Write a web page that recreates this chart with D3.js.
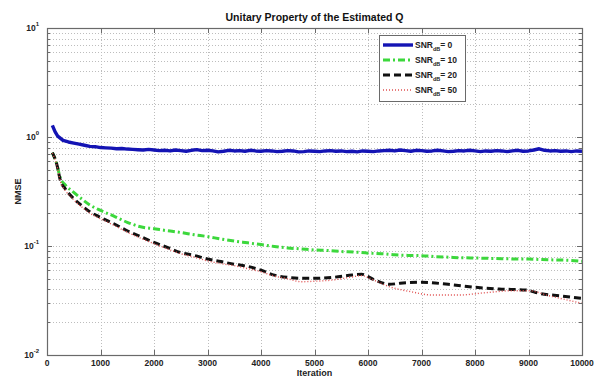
<!DOCTYPE html>
<html>
<head>
<meta charset="utf-8">
<script src="https://cdn.jsdelivr.net/npm/d3@7"></script>
<style>
  body { margin: 0; background: #fff; }
  svg { display: block; font-family: "Liberation Sans", Arial, sans-serif; }
</style>
</head>
<body>
<div id="chart"></div>
<script>
// Data
const title = 'Unitary Property of the Estimated Q';
const xLabel = 'Iteration';
const yLabel = 'NMSE';
const xTicks = [0, 1000, 2000, 3000, 4000, 5000, 6000, 7000, 8000, 9000, 10000];
const yDecades = [-2, -1, 0, 1];

const snrLabels = ['0', '10', '20', '50'];

const blueIter = [100, 150, 200, 300, 400, 500, 600, 700, 800, 900, 1000,
  1100, 1200, 1300, 1400, 1500, 1600, 1700, 1800, 1900, 2000,
  2100, 2200, 2300, 2400, 2500, 2600, 2700, 2800, 2900, 3000,
  3100, 3200, 3300, 3400, 3500, 3600, 3700, 3800, 3900, 4000,
  4100, 4200, 4300, 4400, 4500, 4600, 4700, 4800, 4900, 5000,
  5100, 5200, 5300, 5400, 5500, 5600, 5700, 5800, 5900, 6000,
  6100, 6200, 6300, 6400, 6500, 6600, 6700, 6800, 6900, 7000,
  7100, 7200, 7300, 7400, 7500, 7600, 7700, 7800, 7900, 8000,
  8100, 8200, 8300, 8400, 8500, 8600, 8700, 8800, 8900, 9000,
  9100, 9200, 9300, 9400, 9500, 9600, 9700, 9800, 9900, 10000];
const blueVal = [1.28, 1.12, 1.02, 0.93, 0.9, 0.88, 0.86, 0.84, 0.82, 0.815, 0.8,
  0.795, 0.79, 0.78, 0.785, 0.775, 0.77, 0.765, 0.76, 0.77, 0.76,
  0.75, 0.755, 0.745, 0.76, 0.75, 0.74, 0.755, 0.765, 0.75, 0.755,
  0.745, 0.73, 0.74, 0.755, 0.745, 0.75, 0.74, 0.755, 0.745, 0.74,
  0.75, 0.745, 0.735, 0.74, 0.75, 0.745, 0.73, 0.735, 0.745, 0.74,
  0.735, 0.745, 0.75, 0.74, 0.745, 0.735, 0.74, 0.73, 0.745, 0.74,
  0.735, 0.745, 0.75, 0.755, 0.745, 0.76, 0.75, 0.74, 0.755, 0.75,
  0.74, 0.745, 0.755, 0.745, 0.735, 0.74, 0.75, 0.745, 0.755, 0.745,
  0.735, 0.745, 0.74, 0.75, 0.745, 0.735, 0.745, 0.755, 0.74, 0.745,
  0.76, 0.78, 0.755, 0.745, 0.75, 0.74, 0.745, 0.735, 0.745, 0.74];

const greenIter = [100, 180, 250, 350, 500, 650, 800, 1000, 1250, 1500, 1750, 2000, 2250, 2500, 2750, 3000,
  3250, 3500, 3750, 4000, 4250, 4500, 4750, 5000, 5250, 5500, 5750, 6000, 6250, 6500, 6750, 7000,
  7250, 7500, 7750, 8000, 8250, 8500, 8750, 9000, 9250, 9500, 9750, 10000];
const greenVal = [0.72, 0.57, 0.42, 0.36, 0.31, 0.27, 0.238, 0.212, 0.188, 0.165, 0.15, 0.144, 0.138, 0.133, 0.127, 0.122,
  0.116, 0.111, 0.107, 0.103, 0.099, 0.096, 0.094, 0.092, 0.091, 0.089, 0.088, 0.086, 0.085, 0.083, 0.082, 0.0815,
  0.08, 0.079, 0.078, 0.0776, 0.077, 0.0765, 0.076, 0.076, 0.075, 0.0745, 0.074, 0.0725];

const blackIter = [100, 180, 250, 350, 500, 650, 800, 1000, 1250, 1500, 1750, 2000, 2250, 2500, 2750, 3000,
  3250, 3500, 3750, 4000, 4250, 4500, 4750, 5000, 5350, 5700, 5880, 6100, 6400, 6600, 7000, 7500,
  8000, 8450, 8950, 9200, 9600, 10000];
const blackVal = [0.72, 0.57, 0.4, 0.33, 0.272, 0.235, 0.206, 0.183, 0.16, 0.138, 0.122, 0.108, 0.097, 0.087, 0.082, 0.076,
  0.072, 0.068, 0.065, 0.06, 0.054, 0.0515, 0.0506, 0.0506, 0.0516, 0.0542, 0.055, 0.0495, 0.0445, 0.0455, 0.0465, 0.0445,
  0.0418, 0.0403, 0.0395, 0.0368, 0.0348, 0.0331];

const redIter = [100, 180, 250, 350, 500, 650, 800, 1000, 1250, 1500, 1750, 2000, 2250, 2500, 2750, 3000,
  3250, 3500, 3750, 4000, 4250, 4500, 4750, 5000, 5350, 5700, 5880, 6100, 6400, 6800, 7200, 7700,
  8200, 8700, 9000, 9400, 10000];
const redVal = [0.71, 0.56, 0.39, 0.32, 0.265, 0.228, 0.2, 0.178, 0.155, 0.134, 0.118, 0.105, 0.094, 0.085, 0.079, 0.073,
  0.069, 0.066, 0.062, 0.058, 0.053, 0.05, 0.047, 0.0475, 0.0488, 0.052, 0.0535, 0.0488, 0.0423, 0.0381, 0.0355, 0.0355,
  0.0373, 0.0389, 0.0389, 0.0348, 0.0298];

const width = 599;
const height = 378;
const plot = { left: 47, right: 582, top: 28, bottom: 355 };

const svg = d3.select('#chart')
  .append('svg')
  .attr('width', width)
  .attr('height', height);

const xScale = d3.scaleLinear().domain([0, 10000]).range([plot.left, plot.right]);
const yScale = d3.scaleLog().domain([1e-2, 10]).range([plot.bottom, plot.top]);

// Grid
const grid = svg.append('g').attr('stroke', '#bdbdbd').attr('stroke-width', 1)
  .attr('stroke-dasharray', '1,2');

grid.selectAll('line.vx')
  .data(xTicks.slice(1, -1))
  .enter()
  .append('line')
  .attr('x1', d => Math.round(xScale(d)) + 0.5)
  .attr('x2', d => Math.round(xScale(d)) + 0.5)
  .attr('y1', plot.top)
  .attr('y2', plot.bottom);

const yGridVals = [];
for (const e of yDecades.slice(0, -1)) {
  for (let m = 1; m <= 9; m++) {
    if (m === 1 && e === -2) continue;
    yGridVals.push(m * Math.pow(10, e));
  }
}

grid.selectAll('line.hy')
  .data(yGridVals)
  .enter()
  .append('line')
  .attr('x1', plot.left)
  .attr('x2', plot.right)
  .attr('y1', d => Math.round(yScale(d)) + 0.5)
  .attr('y2', d => Math.round(yScale(d)) + 0.5);

// Lines
const seriesList = [
  { iter: blueIter, val: blueVal, color: '#1414b4', w: 3.4, dash: null, curve: d3.curveLinear },
  { iter: greenIter, val: greenVal, color: '#3cd83c', w: 3, dash: '7,3,2,3', curve: d3.curveMonotoneX },
  { iter: blackIter, val: blackVal, color: '#111', w: 3, dash: '7,4', curve: d3.curveMonotoneX },
  { iter: redIter, val: redVal, color: '#e05050', w: 1.4, dash: '1,2', curve: d3.curveMonotoneX }
];

const content = svg.append('g').classed('graph-content', true);

for (const s of seriesList) {
  const pts = s.iter.map((it, i) => ({ it: it, v: s.val[i] }));
  const line = d3.line()
    .x(d => xScale(d.it))
    .y(d => yScale(d.v))
    .curve(s.curve);
  content.append('path')
    .datum(pts)
    .attr('fill', 'none')
    .attr('stroke', s.color)
    .attr('stroke-width', s.w)
    .attr('stroke-dasharray', s.dash)
    .attr('stroke-linejoin', 'round')
    .attr('d', line);
}

// Box and ticks
const axisColor = '#6a6a6a';
svg.append('rect')
  .attr('x', plot.left + 0.5)
  .attr('y', plot.top + 0.5)
  .attr('width', plot.right - plot.left)
  .attr('height', plot.bottom - plot.top)
  .attr('fill', 'none')
  .attr('stroke', axisColor)
  .attr('stroke-width', 1.2);

const ticks = svg.append('g').attr('stroke', axisColor).attr('stroke-width', 1);
for (const t of xTicks) {
  const x = Math.round(xScale(t)) + 0.5;
  ticks.append('line').attr('x1', x).attr('x2', x).attr('y1', plot.bottom).attr('y2', plot.bottom - 5);
  ticks.append('line').attr('x1', x).attr('x2', x).attr('y1', plot.top).attr('y2', plot.top + 5);
}
for (const d of yGridVals.concat([1e-2, 10])) {
  const yy = Math.round(yScale(d)) + 0.5;
  const major = Math.abs(Math.log10(d) - Math.round(Math.log10(d))) < 1e-9;
  const len = major ? 5 : 3;
  ticks.append('line').attr('x1', plot.left).attr('x2', plot.left + len).attr('y1', yy).attr('y2', yy);
  ticks.append('line').attr('x1', plot.right).attr('x2', plot.right - len).attr('y1', yy).attr('y2', yy);
}

// Tick labels
svg.append('g')
  .selectAll('text')
  .data(xTicks)
  .enter()
  .append('text')
  .attr('x', d => xScale(d))
  .attr('y', 366)
  .attr('text-anchor', 'middle')
  .attr('font-size', 8.5)
  .attr('font-weight', 'bold')
  .attr('fill', '#222')
  .text(d => d);

const yLab = svg.append('g')
  .selectAll('text')
  .data(yDecades)
  .enter()
  .append('text')
  .attr('x', 39)
  .attr('y', d => yScale(Math.pow(10, d)) + 3)
  .attr('text-anchor', 'end')
  .attr('font-size', 8.5)
  .attr('font-weight', 'bold')
  .attr('fill', '#222');
yLab.append('tspan').text('10');
yLab.append('tspan')
  .attr('dy', -5)
  .attr('font-size', 6)
  .text(d => d < 0 ? '-' + Math.abs(d) : d);

// Title and axis labels
svg.append('text')
  .attr('x', (plot.left + plot.right) / 2)
  .attr('y', 21)
  .attr('text-anchor', 'middle')
  .attr('font-size', 10.5)
  .attr('font-weight', 'bold')
  .attr('fill', '#111')
  .text(title);

svg.append('text')
  .attr('x', (plot.left + plot.right) / 2)
  .attr('y', 376)
  .attr('text-anchor', 'middle')
  .attr('font-size', 9)
  .attr('font-weight', 'bold')
  .attr('fill', '#222')
  .text(xLabel);

svg.append('text')
  .attr('transform', `translate(21,${(plot.top + plot.bottom) / 2}) rotate(-90)`)
  .attr('text-anchor', 'middle')
  .attr('font-size', 9)
  .attr('font-weight', 'bold')
  .attr('fill', '#222')
  .text(yLabel);

// Legend
const legend = svg.append('g').attr('transform', 'translate(379,35)');
legend.append('rect')
  .attr('x', 0.5)
  .attr('y', 0.5)
  .attr('width', 86)
  .attr('height', 66)
  .attr('fill', '#fff')
  .attr('stroke', axisColor)
  .attr('stroke-width', 1);

seriesList.forEach((s, i) => {
  const ly = 10 + i * 15;
  legend.append('line')
    .attr('x1', 4)
    .attr('x2', 34)
    .attr('y1', ly)
    .attr('y2', ly)
    .attr('stroke', s.color)
    .attr('stroke-width', s.w)
    .attr('stroke-dasharray', s.dash);
  const t = legend.append('text')
    .attr('x', 36)
    .attr('y', ly + 3)
    .attr('font-size', 8.5)
    .attr('font-weight', 'bold')
    .attr('fill', '#222');
  t.append('tspan').text('SNR');
  t.append('tspan').attr('dy', 3).attr('font-size', 5.5).text('dB');
  t.append('tspan').attr('dy', -3).text('= ' + snrLabels[i]);
});
</script>
</body>
</html>
